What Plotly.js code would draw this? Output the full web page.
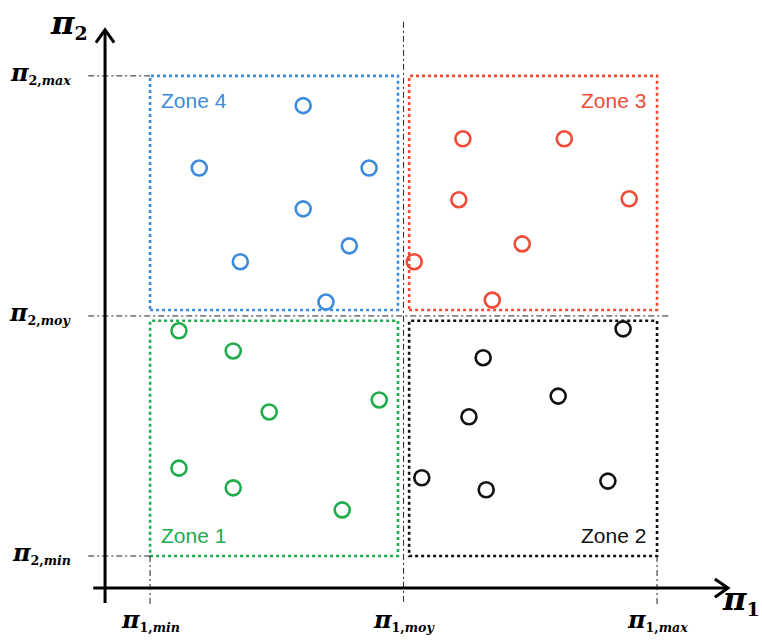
<!DOCTYPE html>
<html><head><meta charset="utf-8">
<script src="https://cdn.plot.ly/plotly-3.0.1.min.js"></script>
<style>html,body{margin:0;padding:0;background:#fff}</style>
</head><body>
<div id="chart" style="width:762px;height:641px"></div>
<script>
// Normalised coordinates: pi1,min=0, pi1,moy=0.5, pi1,max=1 ; same for pi2
const zoneNames = ["Zone 1", "Zone 2", "Zone 3", "Zone 4"];
const zone1_x = [0.057, 0.164, 0.235, 0.452, 0.057, 0.164, 0.379];
const zone1_y = [0.469, 0.427, 0.300, 0.325, 0.183, 0.142, 0.096];
const zone2_x = [0.933, 0.657, 0.805, 0.629, 0.536, 0.663, 0.903];
const zone2_y = [0.473, 0.413, 0.333, 0.290, 0.163, 0.138, 0.156];
const zone3_x = [0.617, 0.817, 0.609, 0.945, 0.734, 0.521, 0.675];
const zone3_y = [0.869, 0.869, 0.742, 0.744, 0.650, 0.613, 0.533];
const zone4_x = [0.302, 0.097, 0.432, 0.302, 0.393, 0.178, 0.347];
const zone4_y = [0.938, 0.808, 0.808, 0.723, 0.646, 0.613, 0.529];
const levels = [0, 0.5, 1];
const xTickLabels = ["π1,min", "π1,moy", "π1,max"];
const yTickLabels = ["π2,min", "π2,moy", "π2,max"];
const axisNames = ["π1", "π2"];

const colors = {z1: "#1fac4c", z2: "#111111", z3: "#f04b37", z4: "#3d8bdc"};

function pts(x, y, c, name) {
  return {x: x, y: y, type: "scatter", mode: "markers", name: name,
    marker: {symbol: "circle-open", size: 15, color: c, line: {width: 2.6, color: c}},
    hoverinfo: "x+y", showlegend: false};
}
const data = [
  pts(zone1_x, zone1_y, colors.z1, zoneNames[0]),
  pts(zone2_x, zone2_y, colors.z2, zoneNames[1]),
  pts(zone3_x, zone3_y, colors.z3, zoneNames[2]),
  pts(zone4_x, zone4_y, colors.z4, zoneNames[3])
];

const shapes = [];
function line(x0, y0, x1, y1, style) {
  shapes.push(Object.assign({type: "line", xref: "x", yref: "y", x0: x0, y0: y0, x1: x1, y1: y1}, style));
}
const dd = {line: {color: "#222", width: 1, dash: "6px,3px,2px,3px"}};
// zone rectangles (dotted)
const gapLo = 0.489, gapHi = 0.511, rowLo = 0.490, rowHi = 0.5125;
function rect(x0, y0, x1, y1, c) {
  shapes.push({type: "rect", xref: "x", yref: "y", x0: x0, y0: y0, x1: x1, y1: y1,
    line: {color: c, width: 2.6, dash: "dot"}, fillcolor: "rgba(0,0,0,0)"});
}
rect(0, 0, gapLo, rowLo, colors.z1);
rect(gapHi, 0, 1, rowLo, colors.z2);
rect(gapHi, rowHi, 1, 1, colors.z3);
rect(0, rowHi, gapLo, 1, colors.z4);
// reference dash-dot lines
line(0, 0, 0, -0.102, dd);
line(0.5, 1.1125, 0.5, -0.102, dd);
line(1, 0, 1, -0.102, dd);
line(-0.122, 1, 0, 1, dd);
line(-0.122, 0.5, 1.022, 0.5, dd);
line(-0.122, 0, 0, 0, dd);
// axes
const axX = -0.0888, axY = -0.0667;
const ax = {line: {color: "#000", width: 3}};
line(axX, -0.098, axX, 1.094, ax);
line(-0.112, axY, 1.138, axY, ax);
// arrowheads
shapes.push({type: "path", xref: "x", yref: "y",
  path: `M ${1.140 - 0.026} ${axY + 0.019} L 1.140 ${axY} L ${1.140 - 0.026} ${axY - 0.019}`,
  line: {color: "#000", width: 3}});
shapes.push({type: "path", xref: "x", yref: "y",
  path: `M ${axX - 0.018} ${1.096 - 0.027} L ${axX} 1.096 L ${axX + 0.018} ${1.096 - 0.027}`,
  line: {color: "#000", width: 3}});

const serif = "DejaVu Serif, Liberation Serif, serif";
function piLabel(txt, piSize) {
  const m = txt.match(/π(\d),(\w+)/);
  return `<b><i><span style="font-size:${piSize}px">π</span></i><sub>${m[1]},<i>${m[2]}</i></sub></b>`;
}
const annotations = [];
levels.forEach((v, i) => {
  annotations.push({x: v, y: -0.134, xref: "x", yref: "y", text: piLabel(xTickLabels[i], 24),
    showarrow: false, xanchor: "center", yanchor: "middle", font: {family: serif, size: 18, color: "#000"}});
  annotations.push({x: -0.152, y: v + 0.006, xref: "x", yref: "y", text: piLabel(yTickLabels[i], 24),
    showarrow: false, xanchor: "right", yanchor: "middle", font: {family: serif, size: 18, color: "#000"}});
});
function bigLabel(txt) {
  return `<b><i><span style="font-size:32px">${txt[0]}</span></i><sub>${txt[1]}</sub></b>`;
}
annotations.push({x: -0.16, y: 1.108, xref: "x", yref: "y", text: bigLabel(axisNames[1]), showarrow: false,
  xanchor: "center", yanchor: "middle", font: {family: serif, size: 27, color: "#000"}});
annotations.push({x: 1.166, y: -0.092, xref: "x", yref: "y", text: bigLabel(axisNames[0]), showarrow: false,
  xanchor: "center", yanchor: "middle", font: {family: serif, size: 27, color: "#000"}});
const sans = "Liberation Sans, Arial, sans-serif";
function zl(name, x, y, anchor, c) {
  annotations.push({x: x, y: y, xref: "x", yref: "y", text: name, showarrow: false,
    xanchor: anchor, yanchor: "middle", font: {family: sans, size: 21, color: c}});
}
zl(zoneNames[3], 0.018, 0.948, "left", colors.z4);
zl(zoneNames[2], 0.982, 0.948, "right", colors.z3);
zl(zoneNames[0], 0.018, 0.042, "left", colors.z1);
zl(zoneNames[1], 0.982, 0.042, "right", colors.z2);

const layout = {
  width: 762, height: 641,
  margin: {l: 0, r: 0, t: 0, b: 0},
  paper_bgcolor: "#fff", plot_bgcolor: "#fff",
  xaxis: {range: [-0.296, 1.207], visible: false, fixedrange: true},
  yaxis: {range: [-0.177, 1.158], visible: false, fixedrange: true},
  shapes: shapes, annotations: annotations, showlegend: false
};
Plotly.newPlot("chart", data, layout, {displayModeBar: false, staticPlot: true});
</script>
</body></html>
